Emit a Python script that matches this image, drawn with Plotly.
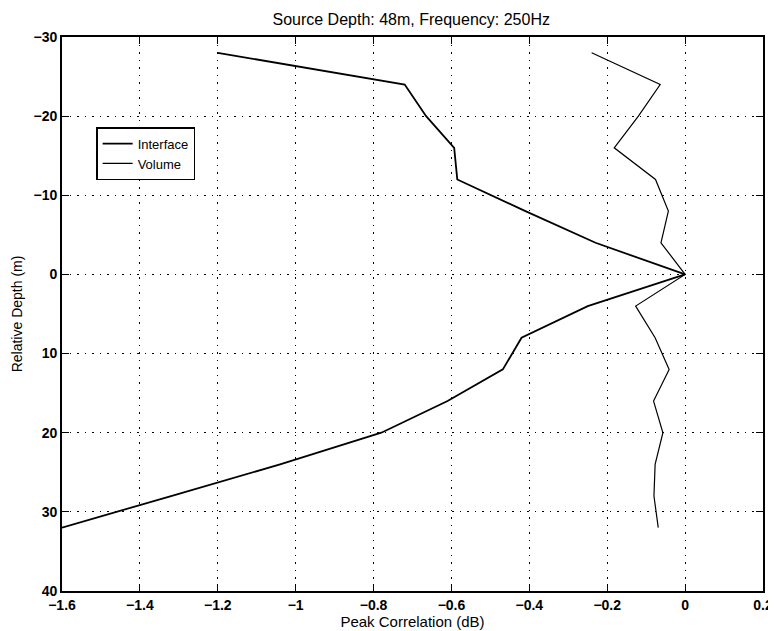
import plotly.graph_objects as go

# relative depth (m) and peak correlation (dB)
iface_depth = [-28, -24, -20, -16, -12, -8, -4, 0, 4, 8, 12, 16, 20, 24, 28, 32]
iface_corr = [-1.20, -0.72, -0.665, -0.593, -0.585, -0.41, -0.23, 0.0,
              -0.25, -0.42, -0.468, -0.61, -0.78, -1.04, -1.32, -1.60]

vol_depth = [-28, -24, -20, -16, -12, -8, -4, 0, 4, 8, 12, 16, 20, 24, 28, 32]
vol_corr = [-0.240, -0.064, -0.12, -0.182, -0.076, -0.043, -0.062, 0.0,
            -0.127, -0.077, -0.041, -0.081, -0.057, -0.077, -0.080, -0.069]

x_ticks = [-1.6, -1.4, -1.2, -1.0, -0.8, -0.6, -0.4, -0.2, 0.0, 0.2]
y_ticks = [-30, -20, -10, 0, 10, 20, 30, 40]

font = "Liberation Sans, Arial, sans-serif"

fig = go.Figure()
fig.add_trace(go.Scatter(x=iface_corr, y=iface_depth, mode="lines", name="Interface",
                         line=dict(color="black", width=1.8)))
fig.add_trace(go.Scatter(x=vol_corr, y=vol_depth, mode="lines", name="Volume",
                         line=dict(color="black", width=1.2)))

axis_common = dict(
    showline=True, linecolor="black", linewidth=1.8, mirror="ticks",
    ticks="inside", ticklen=7, tickcolor="black", tickwidth=1.3,
    showgrid=True, gridcolor="black", griddash="1.5px,6px", gridwidth=1.3,
    zeroline=False, automargin=False,
    tickfont=dict(family=font, size=14, color="black", weight="bold"),
)

fig.update_xaxes(range=[-1.6, 0.2], tickvals=x_ticks,
                 ticktext=[("%g" % v).replace("-", "\u2212") for v in x_ticks],
                 ticklabelstandoff=0,
                 title=dict(text="Peak Correlation (dB)", font=dict(family=font, size=15, color="black"),
                            standoff=0),
                 **axis_common)
fig.update_yaxes(range=[40, -30], tickvals=y_ticks,
                 ticktext=[("%g" % v).replace("-", "\u2212") for v in y_ticks],
                 title=dict(text="Relative Depth (m)", font=dict(family=font, size=14, color="black"),
                            standoff=8),
                 **axis_common)

# page body has an 8px margin, so the figure is sized/offset to land the
# plot area where the reference has it
fig.update_layout(
    width=768, height=623,
    margin=dict(l=54, r=13, t=29, b=40),
    paper_bgcolor="white", plot_bgcolor="white",
    title=dict(text="Source Depth: 48m, Frequency: 250Hz", x=0.525, xanchor="center",
               y=0.981, yanchor="middle", font=dict(family=font, size=16, color="black")),
    legend=dict(x=0.049, y=0.837, xanchor="left", yanchor="top",
                bgcolor="white", bordercolor="black", borderwidth=1.3,
                font=dict(family=font, size=13, color="black"),
                tracegroupgap=0, itemwidth=30),
    showlegend=True,
)

fig.write_html("out.html")
